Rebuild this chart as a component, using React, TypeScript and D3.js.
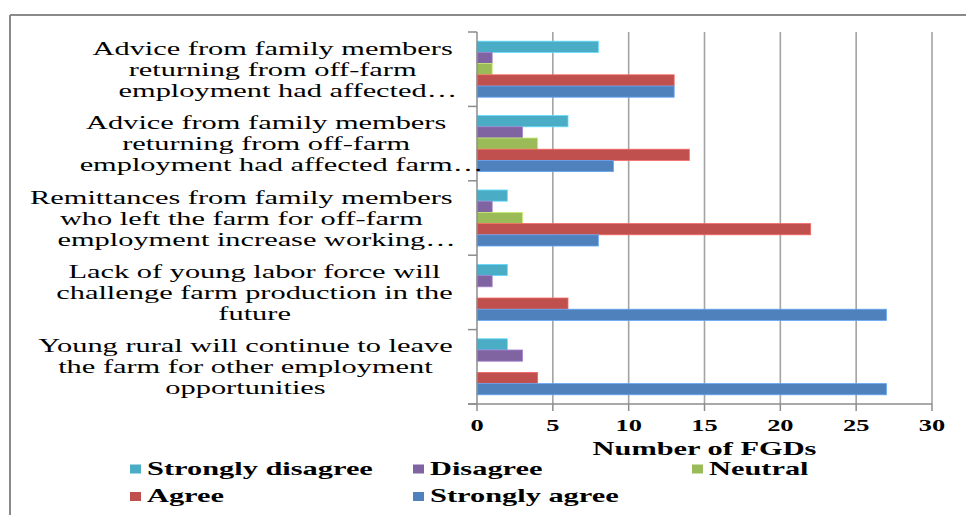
import React from "react";
import * as d3 from "d3";

const categories: string[][] = [
  ["Advice from family members", "returning from off-farm", "employment had affected…"],
  ["Advice from family members", "returning from off-farm", "employment had affected farm…"],
  ["Remittances from family members", "who left the farm for off-farm", "employment increase working…"],
  ["Lack of young labor force will", "challenge farm production in the", "future"],
  ["Young rural will continue to leave", "the farm for other employment", "opportunities"],
];

const seriesNames = ["Strongly disagree", "Disagree", "Neutral", "Agree", "Strongly agree"];
const seriesColors = ["#4BACC6", "#8064A2", "#9BBB59", "#C0504D", "#4F81BD"];

const stronglyDisagree = [8, 6, 2, 2, 2];
const disagree = [1, 3, 1, 1, 3];
const neutral = [1, 4, 3, 0, 0];
const agree = [13, 14, 22, 6, 4];
const stronglyAgree = [13, 9, 8, 27, 27];

const xTicks = [0, 5, 10, 15, 20, 25, 30];
const xTitle = "Number of FGDs";

const seriesValues = [stronglyDisagree, disagree, neutral, agree, stronglyAgree];

const W = 966;
const H = 515;
const SX = 1.6;
const SERIF = "'Liberation Serif', 'Times New Roman', serif";

function measure(text: string, font: string): number {
  if (typeof document === "undefined") return text.length * 8;
  const c = document.createElement("canvas");
  const ctx = c.getContext("2d");
  if (!ctx) return text.length * 8;
  ctx.font = font;
  return ctx.measureText(text).width;
}

const stripEllipsis = (s: string) => (s.endsWith("…") ? s.slice(0, -1) : s);

export default function App() {
  const left = 477;
  const right = 932;
  const top = 32;
  const bottom = 404;

  const x = d3.scaleLinear().domain([0, 30]).range([left, right]);
  const y = d3
    .scaleBand<number>()
    .domain(d3.range(categories.length))
    .range([top, bottom])
    .paddingInner(0.247)
    .paddingOuter(0.1235);
  const inner = d3
    .scaleBand<number>()
    .domain(d3.range(seriesNames.length))
    .range([0, y.bandwidth()]);

  const labelRight = 453;
  const lineH = 21;
  const labelFont = `19px ${SERIF}`;

  const legendRows = [
    [0, 1, 2],
    [3, 4],
  ];
  const legendCols = [130, 413, 692];
  const legendBaselines = [474.5, 502];

  const gridColor = "#a3a3a3";
  const axisColor = "#8c8c8c";

  return (
    <svg
      width={W}
      height={H}
      style={{ position: "fixed", left: 0, top: 0, background: "#fff" }}
    >
      <rect x={0} y={0} width={W} height={H} fill="#fff" />
      {/* outer frame */}
      <line x1={10} y1={15} x2={W} y2={15} stroke="#8a8a8a" strokeWidth={2} />
      <line x1={10} y1={15} x2={10} y2={H} stroke="#8a8a8a" strokeWidth={2} />

      {/* gridlines */}
      {xTicks.map((t) =>
        t === 0 ? null : (
          <line
            key={"g" + t}
            x1={x(t)}
            x2={x(t)}
            y1={top}
            y2={bottom}
            stroke={gridColor}
            strokeWidth={1.6}
          />
        )
      )}

      {/* bars */}
      {categories.map((_, ci) => (
        <g key={"c" + ci} transform={`translate(0,${y(ci)})`}>
          {seriesValues.map((vals, si) =>
            vals[ci] > 0 ? (
              <rect
                key={si}
                x={x(0)}
                y={inner(si)}
                width={x(vals[ci]) - x(0)}
                height={inner.bandwidth()}
                fill={seriesColors[si]}
                stroke={d3.color(seriesColors[si])!.brighter(0.7).formatHex()}
                strokeWidth={0.8}
              />
            ) : null
          )}
        </g>
      ))}

      {/* y axis */}
      <line x1={left} x2={left} y1={top} y2={bottom} stroke={axisColor} strokeWidth={1.5} />
      {d3.range(categories.length + 1).map((i) => {
        const yy = top + i * y.step();
        return (
          <line key={"yt" + i} x1={left - 9} x2={left} y1={yy} y2={yy} stroke={axisColor} strokeWidth={1.5} />
        );
      })}

      {/* x axis */}
      <line x1={left - 9} x2={right} y1={bottom} y2={bottom} stroke={axisColor} strokeWidth={1.5} />
      {xTicks.map((t) => (
        <line key={"xt" + t} x1={x(t)} x2={x(t)} y1={bottom} y2={bottom + 7} stroke={axisColor} strokeWidth={1.5} />
      ))}
      {xTicks.map((t) => (
        <text
          key={"xl" + t}
          transform={`translate(${x(t)},431) scale(${SX},1)`}
          textAnchor="middle"
          fontFamily={SERIF}
          fontWeight="bold"
          fontSize={16.5}
          fill="#000"
        >
          {t}
        </text>
      ))}
      <text
        transform={`translate(${(left + right) / 2},455) scale(${SX},1)`}
        textAnchor="middle"
        fontFamily={SERIF}
        fontWeight="bold"
        fontSize={19}
        fill="#000"
      >
        {xTitle}
      </text>

      {/* category labels */}
      {categories.map((lines, ci) => {
        const widths = lines.map((l) => measure(stripEllipsis(l), labelFont) * SX);
        const maxW = d3.max(widths)!;
        const cx = labelRight - maxW / 2;
        const cy = (y(ci) as number) + y.bandwidth() / 2;
        return (
          <g key={"cl" + ci}>
            {lines.map((l, li) => (
              <text
                key={li}
                transform={`translate(${cx - widths[li] / 2},${cy + (li - (lines.length - 1) / 2) * lineH + 6.5}) scale(${SX},1)`}
                textAnchor="start"
                fontFamily={SERIF}
                fontSize={19}
                fill="#000"
              >
                {l}
              </text>
            ))}
          </g>
        );
      })}

      {/* legend */}
      {legendRows.map((row, ri) =>
        row.map((si, k) => (
          <g key={"lg" + si}>
            <rect
              x={legendCols[k]}
              y={legendBaselines[ri] - 10}
              width={11}
              height={9}
              fill={seriesColors[si]}
            />
            <text
              transform={`translate(${legendCols[k] + 17},${legendBaselines[ri]}) scale(${SX},1)`}
              fontFamily={SERIF}
              fontWeight="bold"
              fontSize={19}
              fill="#000"
            >
              {seriesNames[si]}
            </text>
          </g>
        ))
      )}
    </svg>
  );
}
